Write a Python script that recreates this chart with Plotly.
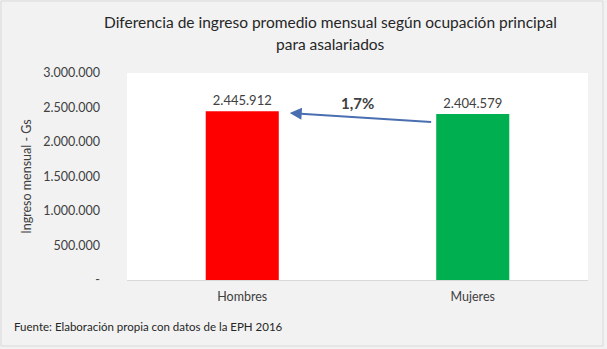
import plotly.graph_objects as go

# Average monthly income by sex (salaried workers, EPH 2016)
categories = ["Hombres", "Mujeres"]
ingreso = [2445912, 2404579]
bar_colors = ["#ff0000", "#00b050"]

y_tickvals = [0, 500000, 1000000, 1500000, 2000000, 2500000, 3000000]
y_ticktext = ["-", "500.000", "1.000.000", "1.500.000", "2.000.000", "2.500.000", "3.000.000"]

diff_pct = (ingreso[0] - ingreso[1]) / ingreso[1] * 100
diff_label = f"{diff_pct:.1f}%".replace(".", ",")

FONT = "Lato"
W, H = 607, 349
ML, MR, MT, MB = 127, 19, 73, 69
PW, PH = W - ML - MR, H - MT - MB


def px_x(x):
    return (x - ML) / PW


def px_y(y):
    return (H - MB - y) / PH


fig = go.Figure(
    go.Bar(
        x=categories,
        y=ingreso,
        marker=dict(color=bar_colors, line=dict(width=0)),
        texttemplate="%{y:,d}",
        textposition="outside",
        textfont=dict(family=FONT, size=13, color="#404040"),
        cliponaxis=False,
        width=0.317,
    )
)

# Arrow from the women's bar to the men's bar with the gap percentage
fig.add_annotation(
    x=0.206, y=2420000, xref="x", yref="y",
    ax=0.826, ay=2290000, axref="x", ayref="y",
    text="", showarrow=True, arrowhead=2, arrowsize=1.2, arrowwidth=2,
    arrowcolor="#4a6fb0",
)
fig.add_annotation(
    x=0.5, y=2560000, xref="x", yref="y",
    text=f"<b>{diff_label}</b>", showarrow=False,
    font=dict(family=FONT, size=15, color="#404040"),
)

# Source note under the chart
fig.add_annotation(
    x=px_x(12), y=px_y(326), xref="paper", yref="paper",
    text="Fuente: Elaboración propia con datos de la EPH 2016",
    showarrow=False, xanchor="left", yanchor="middle",
    font=dict(family=FONT, size=11.5, color="#262626"),
)

# Title, two centred lines
fig.add_annotation(
    x=px_x(330), y=px_y(22), xref="paper", yref="paper",
    text="Diferencia de ingreso promedio mensual según ocupación principal",
    showarrow=False, xanchor="center", yanchor="middle",
    font=dict(family=FONT, size=15.5, color="#262626"),
)
fig.add_annotation(
    x=px_x(330), y=px_y(44), xref="paper", yref="paper",
    text="para asalariados",
    showarrow=False, xanchor="center", yanchor="middle",
    font=dict(family=FONT, size=15.5, color="#262626"),
)

# Thin frame around the whole chart
fig.add_shape(
    type="rect", xref="paper", yref="paper",
    x0=px_x(1), x1=px_x(603), y0=px_y(346), y1=px_y(1),
    line=dict(color="#d9d9d9", width=1), fillcolor="rgba(0,0,0,0)",
    layer="below",
)

fig.update_layout(
    width=W, height=H,
    margin=dict(l=ML, r=MR, t=MT, b=MB),
    paper_bgcolor="#f2f2f2",
    plot_bgcolor="#ffffff",
    separators=",.",
    showlegend=False,
    font=dict(family=FONT, color="#404040"),
)

fig.update_xaxes(
    showgrid=False, showline=True, linecolor="#d9d9d9", linewidth=1,
    ticks="", ticklabelstandoff=5,
    tickfont=dict(family=FONT, size=12.5, color="#404040"),
)
fig.update_yaxes(
    range=[0, 3000000], tickvals=y_tickvals, ticktext=y_ticktext,
    showgrid=False, zeroline=False, ticks="", ticklen=0,
    ticklabelstandoff=26,
    tickfont=dict(family=FONT, size=12.5, color="#404040"),
    title=dict(text="Ingreso mensual - Gs", font=dict(family=FONT, size=12.5, color="#404040"), standoff=8),
)

fig.write_html("out.html")
